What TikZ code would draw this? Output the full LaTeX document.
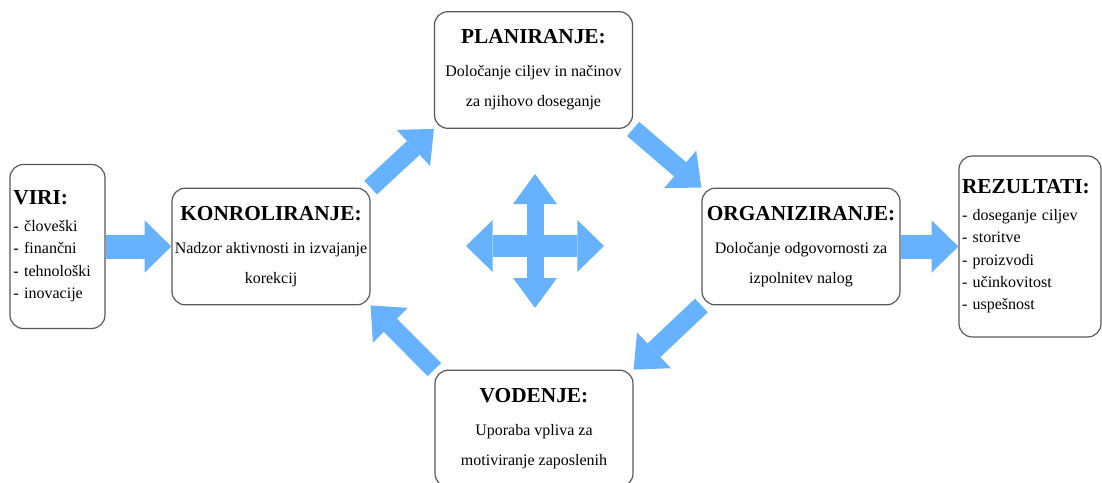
\documentclass[tikz,border=0pt]{standalone}
\usepackage{fontspec}
\setmainfont{Liberation Serif}
\usetikzlibrary{arrows.meta}

\definecolor{arrowblue}{RGB}{102,178,255}
\newcommand{\boxtitle}[1]{{\fontsize{16}{19}\selectfont\bfseries #1}}

\tikzset{
    box/.style={draw=black!65, line width=0.9pt, rounded corners=10pt, fill=white,
        inner sep=2pt, align=center, font=\fontsize{12}{22.5}\selectfont},
    stage/.style={box, minimum width=148.5pt, minimum height=87.5pt},
    listbox/.style={box, align=left, font=\fontsize{12}{16.8}\selectfont},
    sidearrow/.style={arrowblue, line width=18pt,
        -{Triangle[length=20pt, width=39pt, line width=0pt]}},
    cyclearrow/.style={arrowblue, line width=14pt,
        -{Triangle[length=21pt, width=37pt, line width=0pt]}},
}

\begin{document}
\begin{tikzpicture}[x=0.75pt, y=-0.75pt]
                \path [use as bounding box] (0,0) rectangle (1102,482);
%
                \node [stage] (plan) at (533.5,70) {\boxtitle{PLANIRANJE:}\\[2pt]
                    Določanje ciljev in načinov\\ za njihovo doseganje};
                \node [stage] (konr) at (271,246.5) {\boxtitle{KONROLIRANJE:}\\[2pt]
                    Nadzor aktivnosti in izvajanje\\ korekcij};
                \node [stage] (org) at (801,246.5) {\boxtitle{ORGANIZIRANJE:}\\[2pt]
                    Določanje odgovornosti za\\ izpolnitev nalog};
                \node [stage] (vod) at (534,428.5) {\boxtitle{VODENJE:}\\[2pt]
                    Uporaba vpliva za\\ motiviranje zaposlenih};
%
                \node [listbox, minimum width=71.25pt, minimum height=123pt, text width=66pt]
                    (viri) at (57.5,246.5) {\boxtitle{VIRI:}\\[3pt]
                    - človeški\\ - finančni\\ - tehnološki\\ - inovacije};
                \node [listbox, minimum width=106.5pt, minimum height=135.75pt, text width=102pt]
                    (rez) at (1030,246.5) {\boxtitle{REZULTATI:}\\[3pt]
                    - doseganje ciljev\\ - storitve\\ - proizvodi\\ - učinkovitost\\ - uspešnost};
%
                \draw [sidearrow] (viri.east) -- (konr.west);
                \draw [sidearrow] (org.east) -- (rez.west);
%
                \draw [cyclearrow] (konr.north east) -- (plan.south west);
                \draw [cyclearrow] (plan.south east) -- (org.north west);
                \draw [cyclearrow] (org.south west) -- (vod.north east);
                \draw [cyclearrow] (vod.north west) -- (konr.south east);
%
                \draw [arrowblue, line width=12.75pt,
                    {Triangle[length=22.5pt, width=33pt, line width=0pt]}-{Triangle[length=22.5pt, width=33pt, line width=0pt]}]
                    (535,174) -- (535,308);
                \draw [arrowblue, line width=16.5pt,
                    {Triangle[length=20pt, width=39pt, line width=0pt]}-{Triangle[length=20pt, width=39pt, line width=0pt]}]
                    (466,246) -- (604,246);
            \end{tikzpicture}
\end{document}
